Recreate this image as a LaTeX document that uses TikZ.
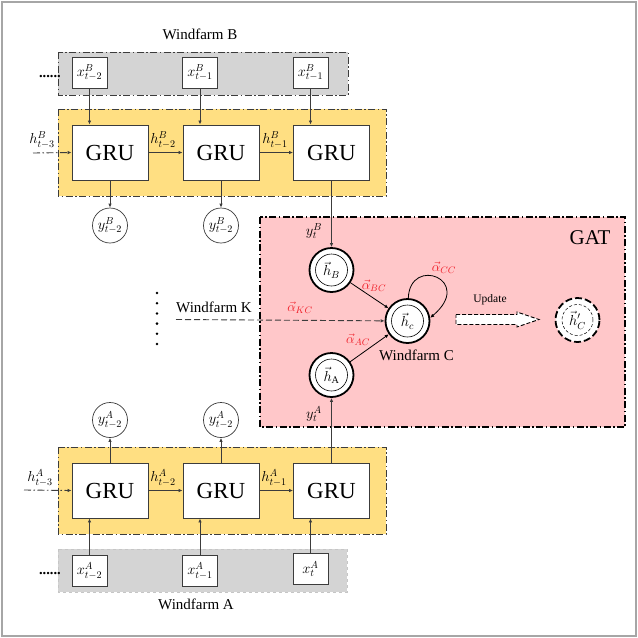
\documentclass[tikz,border=0pt]{standalone}
\usepackage{fix-cm}
\usepackage{fontspec}
\setmainfont{Liberation Serif}
\usepackage{amsmath}
\usepackage{tikz}
\usetikzlibrary{positioning}
\usetikzlibrary{arrows.meta,calc}

\definecolor{gruyellow}{RGB}{255,223,130}
\definecolor{gatpink}{RGB}{255,199,201}
\definecolor{ingray}{RGB}{212,212,212}
\definecolor{linegray}{RGB}{60,60,60}
\definecolor{attred}{RGB}{240,30,40}

\begin{document}
\begin{tikzpicture}[
  x=1pt, y=-1pt,
  every node/.style={font=\fontsize{14.5}{17}\selectfont},
  dashdot/.style={dash pattern=on 7pt off 2.5pt on 1.5pt off 2.5pt},
  line/.style={draw=linegray, line width=0.9pt},
  arr/.style={line, -{Latex[length=4pt,width=3.5pt]}},
  grubox/.style={draw=linegray, line width=0.9pt, fill=white,
    minimum width=76pt, minimum height=55pt, inner sep=0pt,
    font=\fontsize{23}{26}\selectfont},
  inbox/.style={draw=linegray, line width=0.9pt, fill=white,
    minimum width=35pt, minimum height=31pt, inner sep=0pt},
  ycirc/.style={circle, draw=linegray, line width=0.7pt, fill=white,
    minimum size=35pt, inner sep=0pt},
  hcirc/.style={circle, draw=black, line width=1.8pt, fill=white,
    minimum size=44pt, inner sep=0pt,
    path picture={\draw[line width=0.6pt] (path picture bounding box.center) circle (16pt);}},
  hnew/.style={circle, draw=black, line width=1.8pt, fill=white,
    dash pattern=on 7pt off 3pt, minimum size=44pt, inner sep=0pt,
    path picture={\draw[line width=0.5pt, dash pattern=on 3pt off 2pt]
      (path picture bounding box.center) circle (15.5pt);}},
  att/.style={text=attred, font=\fontsize{13.5}{16}\selectfont},
  farm/.style={font=\fontsize{15}{17}\selectfont},
]
  \useasboundingbox (0,0) rectangle (638,638);
  \draw[gray!70, line width=1.5pt] (2,2) rectangle (636,636);

  % regions
  \path[fill=gatpink, draw=black, line width=1.3pt, dashdot] (260,217) rectangle (625,427);
  \path[fill=ingray, draw=linegray, line width=0.9pt, dashdot] (58,52) rectangle (348,95);
  \path[fill=gruyellow, draw=linegray, line width=0.9pt, dashdot] (58,109) rectangle (386,196);
  \path[fill=gruyellow, draw=linegray, line width=0.9pt, dashdot] (58,447) rectangle (386,534);
  \path[fill=ingray, draw=gray!45, line width=0.9pt, dashed] (58,549) rectangle (347,592);

  \node[farm] (farmB) at (200,34) {Windfarm B};
  \node[farm] (farmA) at (196,604) {Windfarm A};
  \node[font=\fontsize{21}{24}\selectfont] (gat) at (590,238) {GAT};

  % windfarm B
  \node[inbox] (xB1) at (89.5,72.5) {$x^B_{t-2}$};
  \node[inbox] (xB2) at (200,72.5) {$x^B_{t-1}$};
  \node[inbox] (xB3) at (310.5,72.5) {$x^B_{t-1}$};
  \node[grubox] (gruB1) at (110,152.5) {GRU};
  \node[grubox] (gruB2) at (221,152.5) {GRU};
  \node[grubox] (gruB3) at (331.5,152.5) {GRU};
  \node[ycirc] (yB1) at (110,225.5) {$y^B_{t-2}$};
  \node[ycirc] (yB2) at (221,225.5) {$y^B_{t-2}$};
  \node (dotsB) at (50,77) {\textbf{......}};
  \coordinate (hB0) at (33,153);
  \node (lhB0) at (42,140) {$h^B_{t-3}$};
  \node (lhB1) at (163,140) {$h^B_{t-2}$};
  \node (lhB2) at (275,140) {$h^B_{t-1}$};

  \draw[arr] (xB1.south) -- (xB1.south |- gruB1.north);
  \draw[arr] (xB2.south) -- (xB2.south |- gruB2.north);
  \draw[arr] (xB3.south) -- (xB3.south |- gruB3.north);
  \draw[arr, dashdot] (hB0) -- (gruB1.west);
  \draw[arr] (gruB1) -- (gruB2);
  \draw[arr] (gruB2) -- (gruB3);
  \draw[arr] (gruB1.south) -- (yB1.north);
  \draw[arr] (gruB2.south) -- (yB2.north);

  % windfarm A
  \node[inbox] (xA1) at (89.5,571) {$x^A_{t-2}$};
  \node[inbox] (xA2) at (200,571) {$x^A_{t-1}$};
  \node[inbox] (xA3) at (310.5,569) {$x^A_{t}$};
  \node[grubox] (gruA1) at (110,490.5) {GRU};
  \node[grubox] (gruA2) at (221,490.5) {GRU};
  \node[grubox] (gruA3) at (331.5,490.5) {GRU};
  \node[ycirc] (yA1) at (110,420) {$y^A_{t-2}$};
  \node[ycirc] (yA2) at (221,420) {$y^A_{t-2}$};
  \node (dotsA) at (50,574) {\textbf{......}};
  \coordinate (hA0) at (24,490);
  \node (lhA0) at (40,478) {$h^A_{t-3}$};
  \node (lhA1) at (163,478) {$h^A_{t-2}$};
  \node (lhA2) at (274,478) {$h^A_{t-1}$};

  \draw[arr] (xA1.north) -- (xA1.north |- gruA1.south);
  \draw[arr] (xA2.north) -- (xA2.north |- gruA2.south);
  \draw[arr] (xA3.north) -- (xA3.north |- gruA3.south);
  \draw[arr, dashdot] (hA0) -- (gruA1.west);
  \draw[arr] (gruA1) -- (gruA2);
  \draw[arr] (gruA2) -- (gruA3);
  \draw[arr] (gruA1.north) -- (yA1.south);
  \draw[arr] (gruA2.north) -- (yA2.south);

  % GAT
  \node[hcirc] (hB) at (331.5,270) {$\vec{h}_B$};
  \node[hcirc] (hC) at (407.5,321) {$\vec{h}_c$};
  \node[hcirc] (hA) at (331.5,375) {$\vec{h}_{\mathrm{A}}$};
  \node[hnew] (hCnew) at (577.5,320) {$\vec{h}'_C$};
  \node (ytB) at (314,231) {$y^B_t$};
  \node (ytA) at (314,414) {$y^A_t$};
  \node[farm] (farmC) at (416.5,355) {Windfarm C};

  \draw[arr] (gruB3.south) -- (hB.north);
  \draw[arr] (gruA3.north) -- (hA.south);
  \draw[-{Latex[length=4pt,width=3.5pt]}, line width=0.8pt] (hB) -- (hC);
  \draw[-{Latex[length=4pt,width=3.5pt]}, line width=0.8pt] (hA) -- (hC);
  \draw[-{Latex[length=4pt,width=3.5pt]}, line width=0.8pt]
    (hC.88) .. controls (410,255) and (475,280) .. (hC.8);
  \node[att] (aBC) at (374,286) {$\vec{\alpha}_{BC}$};
  \node[att] (aAC) at (358,340) {$\vec{\alpha}_{AC}$};
  \node[att] (aCC) at (444,268) {$\vec{\alpha}_{CC}$};
  \node[att] (aKC) at (300,308) {$\vec{\alpha}_{KC}$};

  % windfarm K
  \node[farm] (farmK) at (214,307) {Windfarm K};
  \coordinate (kEnd) at (176,319.5);
  \draw[-{Latex[length=4pt,width=3.5pt]}, draw=linegray, line width=0.9pt,
    dash pattern=on 6pt off 3pt] (kEnd) -- (hC);
  \foreach \k in {0,...,5}
    \fill (157,293+10.2*\k) circle (1.4pt);

  % update
  \node[font=\fontsize{11.5}{13}\selectfont] (upd) at (490,300) {Update};
  \draw[fill=white, line width=0.9pt, dash pattern=on 4pt off 2pt]
    (456,314.5) -- (517,314.5) -- (517,312) -- (539,319.5) -- (517,327)
    -- (517,324.5) -- (456,324.5) -- cycle;
\end{tikzpicture}
\end{document}
